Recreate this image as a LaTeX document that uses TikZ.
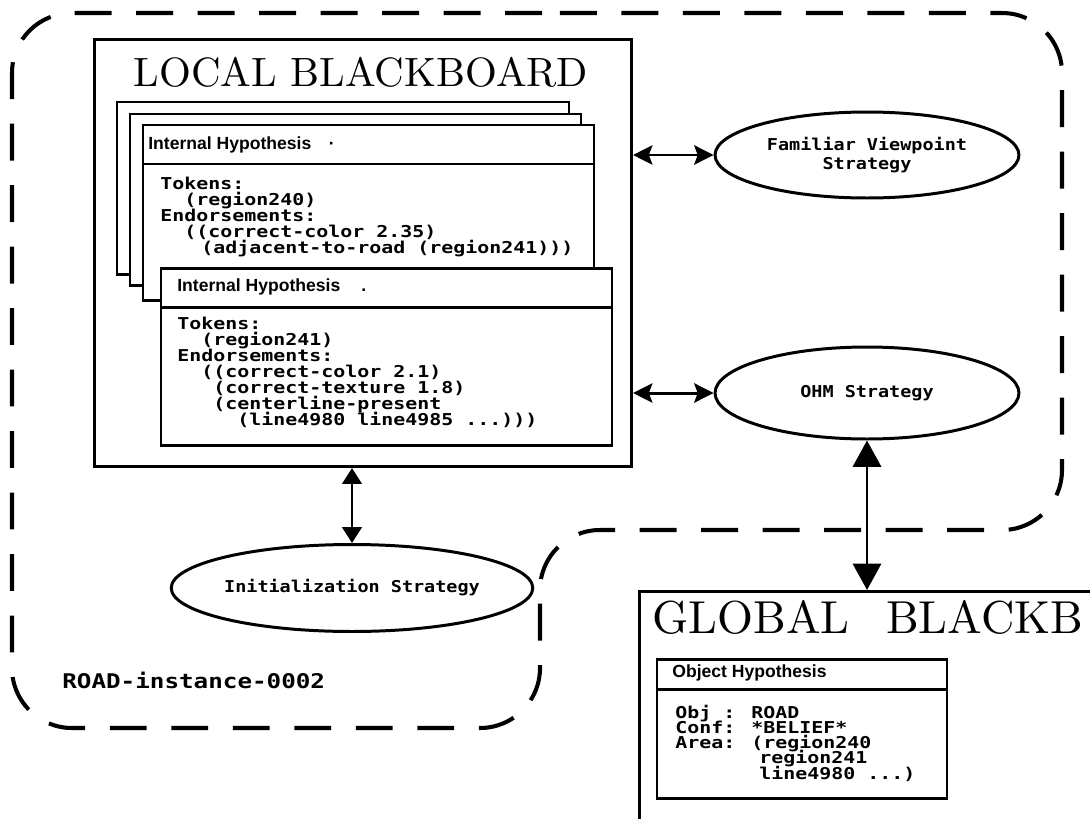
\documentclass[tikz,border=0pt]{standalone}
\usepackage{fontspec}
\usetikzlibrary{shapes.geometric,arrows.meta}
\newfontfamily\lispf{DejaVu Sans Mono}[FakeStretch=1.22]
\newfontfamily\stratf{DejaVu Sans Mono}[FakeStretch=1.13]
\newfontfamily\roadf{DejaVu Sans Mono}[FakeStretch=1.2]
\newfontfamily\hdrf{Liberation Sans}
\newfontfamily\titf{lmroman10-regular.otf}
\begin{document}
\lineskiplimit=-20pt
\begin{tikzpicture}[x=0.02cm,y=-0.02cm,
  outline/.style={line width=2.3pt,dash pattern=on 21pt off 14pt,rounded corners=1.2cm},
  bboard/.style={draw,line width=1.8pt,fill=white,inner sep=0pt,anchor=north west},
  card/.style={draw,line width=1.7pt,fill=white},
  btitle/.style={font=\titf\fontsize{23.3}{24}\selectfont,inner sep=0pt},
  gtitle/.style={font=\titf\fontsize{26.3}{28}\selectfont,inner sep=0pt,anchor=west},
  hdr/.style={font=\hdrf\bfseries\fontsize{10}{10}\selectfont,inner sep=0pt,anchor=west},
  body/.style={font=\lispf\bfseries\fontsize{9.3}{9.1}\selectfont,align=left,inner sep=0pt,anchor=north west},
  obody/.style={body,font=\lispf\bfseries\fontsize{9.3}{8.7}\selectfont},
  strat/.style={ellipse,draw,line width=1.7pt,inner sep=0pt,align=center,
    font=\stratf\bfseries\fontsize{9.3}{10.8}\selectfont},
  dbl/.style={line width=1.7pt,{Stealth[length=11pt,width=11pt,inset=2pt]}-{Stealth[length=11pt,width=11pt,inset=2pt]}},
  dblbig/.style={line width=1.7pt,{Triangle[length=15pt,width=16pt]}-{Triangle[length=15pt,width=16pt]}},
  dblmid/.style={line width=1.7pt,{Triangle[length=9pt,width=11pt]}-{Triangle[length=9pt,width=11pt]}}
]
\useasboundingbox (0,0) rectangle (1090,819);
\clip (0,0) rectangle (1090,819);
\fill[white] (0,0) rectangle (1090,819);

% dashed outline of the instance
\draw[outline] (500,13) -- (1062,13) -- (1062,530) -- (540,530) -- (540,728) -- (12,728) -- (12,13) -- cycle;

% local blackboard
\node[bboard,minimum width=10.74cm,minimum height=8.54cm] (LB) at (93,38) {};
\node[btitle] (LBt) at (361,72) {LOCAL BLACKBOARD};

\draw[card] (117,102) rectangle (569,274);
\draw[card] (130,114) rectangle (581,285);
\draw[card] (143,125) rectangle (594,300);
\draw[line width=1.7pt] (143,164) -- (594,164);
\node[hdr] (h1) at (148,145) {Internal Hypothesis\hspace{10pt}·};
\node[body] (t1) at (160,176.5) {Tokens:\\ \phantom{xx}(region240)\\ Endorsements:\\ \phantom{xx}((correct-color 2.35)\\ \phantom{xxx}\hspace{0.3em}(adjacent-to-road (region241)))};

\draw[card] (161,268) rectangle (612,445);
\draw[line width=1.7pt] (161,307) -- (612,307);
\node[hdr] (h2) at (177,287) {Internal Hypothesis\hspace{12pt}.};
\node[body] (t2) at (177,316.5) {Tokens:\\ \phantom{xx}(region241)\\ Endorsements:\\ \phantom{xx}((correct-color 2.1)\\ \phantom{xxx}(correct-texture 1.8)\\ \phantom{xxx}(centerline-present\\ \phantom{xxxxx}(line4980 line4985 ...)))};

% strategies
\node[strat,minimum width=6.08cm,minimum height=1.72cm] (FV) at (867,155) {Familiar Viewpoint\\ Strategy};
\node[strat,minimum width=6.08cm,minimum height=1.84cm] (OHM) at (867,393) {OHM Strategy};
\node[strat,minimum width=6.12cm,minimum height=1.74cm] (INIT) at (352,588) {Initialization Strategy};

\node[font=\roadf\bfseries\fontsize{11.5}{12}\selectfont,inner sep=0pt,anchor=west] (road) at (62,680) {ROAD-instance-0002};

% global blackboard
\node[bboard,minimum width=10cm,minimum height=5cm] (GB) at (638,590) {};
\node[gtitle] (GBt) at (652,617) {GLOBAL \hspace{12pt}BLACKB};
\draw[card] (657,659) rectangle (947,798);
\draw[line width=1.7pt] (657,689) -- (947,689);
\node[hdr] (h3) at (672,673) {Object Hypothesis};
\node[obody] (t3) at (675,704.5) {Obj : ROAD\\ Conf: *BELIEF*\\ Area: (region240\\ \phantom{xxxxxxx}region241\\ \phantom{xxxxxxx}line4980 ...)};

% connectors
\draw[dbl] (FV.west -| LB.east) -- (FV.west);
\draw[dbl] (OHM.west -| LB.east) -- (OHM.west);
\draw[dblmid] (INIT.north |- LB.south) -- (INIT.north);
\draw[dblbig] (OHM.south) -- (OHM.south |- GB.north);
\end{tikzpicture}
\end{document}
